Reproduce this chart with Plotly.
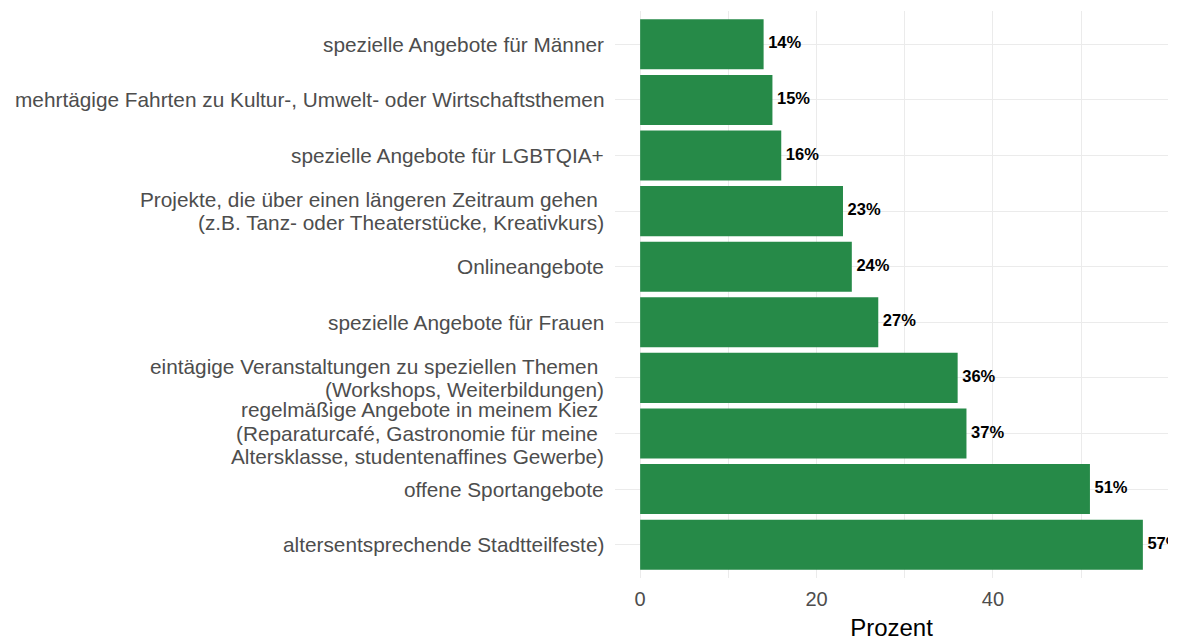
import plotly.graph_objects as go

categories = [
    "spezielle Angebote für Männer",
    "mehrtägige Fahrten zu Kultur-, Umwelt- oder Wirtschaftsthemen",
    "spezielle Angebote für LGBTQIA+",
    "Projekte, die über einen längeren Zeitraum gehen\u00a0<br>(z.B. Tanz- oder Theaterstücke, Kreativkurs)",
    "Onlineangebote",
    "spezielle Angebote für Frauen",
    "eintägige Veranstaltungen zu speziellen Themen\u00a0<br>(Workshops, Weiterbildungen)",
    "regelmäßige Angebote in meinem Kiez\u00a0<br>(Reparaturcafé, Gastronomie für meine\u00a0<br>Altersklasse, studentenaffines Gewerbe)",
    "offene Sportangebote",
    "altersentsprechende Stadtteilfeste)",
]
values = [14, 15, 16, 23, 24, 27, 36, 37, 51, 57]
labels = [f"\u00a0{v}%" for v in values]

BAR = "#268a48"
GRID = "#ebebeb"
FONT = "Liberation Sans, Arial, sans-serif"
LINE_H = 23.5

fig = go.Figure()
fig.add_trace(go.Bar(
    x=values, y=categories, orientation="h",
    marker=dict(color=BAR, line=dict(width=0)),
    hoverinfo="skip", showlegend=False,
))
fig.add_trace(go.Scatter(
    x=values, y=categories, mode="text", text=labels,
    textposition="middle right",
    textfont=dict(family=FONT, size=16.5, color="black", weight="bold"),
    cliponaxis=True, showlegend=False, hoverinfo="skip",
))

# category labels drawn line by line (tighter line height as in the reference)
for cat in categories:
    lines = cat.split("<br>")
    n = len(lines)
    for i, line in enumerate(lines):
        fig.add_annotation(
            xref="paper", x=0, xanchor="right", xshift=-9,
            yref="y", y=cat, yanchor="middle",
            yshift=((n - 1) / 2 - i) * LINE_H,
            text=line, showarrow=False,
            font=dict(family=FONT, size=20.8, color="#4d4d4d"),
        )

fig.update_layout(
    width=1180, height=643,
    margin=dict(l=615, r=12, t=11, b=65),
    paper_bgcolor="white", plot_bgcolor="white",
    bargap=0.1,
    font=dict(family=FONT, color="#4d4d4d"),
    showlegend=False,
)
fig.update_xaxes(
    range=[-2.85, 59.85],
    tickvals=[0, 20, 40], ticktext=["0", "20", "40"],
    tickfont=dict(size=20, color="#4d4d4d"),
    showgrid=True, gridcolor=GRID, gridwidth=1.1,
    minor=dict(tickvals=[10, 30, 50], showgrid=True, gridcolor=GRID, gridwidth=0.6),
    zeroline=False, showline=False, ticks="",
    ticklabelstandoff=7, automargin=False,
    title=dict(text="Prozent", font=dict(size=24, color="black"), standoff=10),
)
fig.update_yaxes(
    type="category",
    categoryorder="array", categoryarray=categories,
    range=[9.6, -0.6],
    showticklabels=False,
    showgrid=True, gridcolor=GRID, gridwidth=1.1,
    zeroline=False, showline=False, ticks="", automargin=False,
)

fig.write_html("out.html", config={"displayModeBar": False},
               post_script="document.body.style.margin='0';")
